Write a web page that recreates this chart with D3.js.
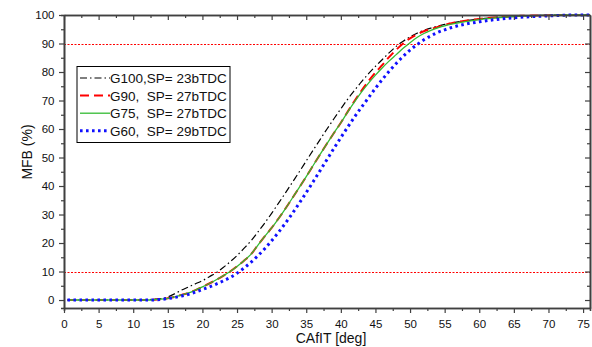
<!DOCTYPE html>
<html>
<head>
<meta charset="utf-8">
<script src="https://cdn.jsdelivr.net/npm/d3@7/dist/d3.min.js"></script>
<style>
  body { margin: 0; background: #fff; }
  text { font-family: Arial, "Liberation Sans", sans-serif; fill: #111; }
</style>
</head>
<body>
<div id="chart"></div>
<script>
// crank angle grid (deg)
var deg = [0.5, 2, 4, 6, 8, 10, 12, 13, 14, 15, 16, 17, 18, 19, 20, 21, 22, 23, 24, 25,
  26, 27, 28, 29, 30, 31, 32, 33, 34, 35, 36, 37, 38, 39, 40, 41, 42, 43, 44, 45,
  46, 47, 48, 49, 50, 51, 52, 53, 54, 55, 56, 58, 60, 62, 64, 66, 68, 70, 72, 74, 76];

// mass fraction burned (%)
var g100 = [0, 0, 0, 0, 0, 0, 0.1, 0.3, 0.5, 1.1, 2.2, 3.5, 4.6, 5.7, 6.8, 8.2, 9.6, 11.4, 13.4, 15.6,
  18.1, 20.7, 23.8, 27.0, 30.4, 34.0, 37.6, 41.3, 45.0, 48.8, 52.6, 56.3, 60.0, 63.6, 67.1, 70.5, 73.6, 76.6, 79.4, 82.0,
  84.4, 86.8, 89.0, 90.8, 92.3, 93.6, 94.6, 95.4, 96.1, 96.7, 97.2, 98.0, 98.6, 99.0, 99.3, 99.6, 99.8, 99.9, 100, 100, 100];
var g90 = [0, 0, 0, 0, 0, 0, 0, 0.1, 0.3, 0.6, 1.1, 1.8, 2.5, 3.5, 4.6, 5.8, 7.1, 8.5, 10.0, 11.8,
  13.8, 16.0, 19.2, 22.3, 25.3, 28.6, 32.1, 35.8, 39.5, 43.3, 47.2, 51.1, 54.9, 58.6, 62.2, 66.1, 69.9, 73.5, 76.8, 79.8,
  82.5, 85.3, 87.8, 90.0, 91.8, 93.2, 94.3, 95.1, 95.8, 96.5, 97.1, 98.0, 98.6, 99.1, 99.4, 99.7, 99.8, 99.9, 100, 100, 100];
var g75 = [0, 0, 0, 0, 0, 0, 0, 0.1, 0.3, 0.6, 1.1, 1.8, 2.5, 3.5, 4.6, 5.8, 7.1, 8.5, 10.0, 11.8,
  13.8, 16.0, 19.2, 22.3, 25.3, 28.6, 32.1, 35.8, 39.5, 43.3, 47.2, 51.1, 54.9, 58.6, 62.2, 66.0, 69.6, 73.0, 76.1, 78.9,
  81.5, 83.9, 86.1, 88.3, 90.3, 92.1, 93.5, 94.6, 95.5, 96.2, 96.8, 97.7, 98.4, 98.9, 99.3, 99.6, 99.8, 99.9, 100, 100, 100];
var g60 = [0, 0, 0, 0, 0, 0, 0, 0.05, 0.2, 0.5, 0.9, 1.4, 2.0, 2.8, 3.7, 4.6, 5.6, 6.7, 7.9, 9.4,
  11.2, 13.2, 15.5, 18.0, 20.8, 23.8, 27.0, 30.4, 34.0, 37.7, 41.5, 45.4, 49.3, 53.2, 57.0, 60.7, 64.3, 67.7, 71.0, 74.3,
  77.4, 80.3, 83.0, 85.5, 87.7, 89.6, 91.3, 92.7, 93.9, 94.8, 95.6, 96.8, 97.6, 98.3, 98.8, 99.2, 99.5, 99.7, 99.9, 100, 100];

var seriesNames = ["G100,SP= 23bTDC", "G90,  SP= 27bTDC", "G75,  SP= 27bTDC", "G60,  SP= 29bTDC"];
var refLines = [10, 90];
var xTicks = d3.range(0, 76, 5);
var yTicks = d3.range(0, 101, 10);

var W = 592, H = 347;
var margin = {top: 15, right: 2, bottom: 39, left: 64};

var svg = d3.select("#chart").append("svg")
  .attr("width", W).attr("height", H);
svg.append("rect").attr("width", W).attr("height", H).attr("fill", "#fff");

var x = d3.scaleLinear().domain([0, 76]).range([margin.left, W - margin.right]);
var y = d3.scaleLinear().domain([-2.8, 100]).range([H - margin.bottom, margin.top]);

var styles = [
  {color: "#000", width: 1.2, dash: "7,3,1.5,3"},
  {color: "#ff0000", width: 2, dash: "9,5"},
  {color: "#33bb33", width: 1.3, dash: null},
  {color: "#1010ff", width: 3, dash: "2.6,3.4"}
];
var allSeries = [g100, g90, g75, g60];

// reference lines (snapped to pixel rows)
svg.selectAll(".ref").data(refLines).enter().append("line")
  .attr("class", "ref")
  .attr("x1", x(0)).attr("x2", x(76))
  .attr("y1", function(d) { return Math.round(y(d)) + 0.5; })
  .attr("y2", function(d) { return Math.round(y(d)) + 0.5; })
  .style("stroke", "#ff0000").style("stroke-width", 1)
  .style("stroke-dasharray", "2,1.5");

// curves
var line = d3.line()
  .x(function(d) { return x(d[0]); })
  .y(function(d) { return y(d[1]); })
  .curve(d3.curveMonotoneX);

allSeries.forEach(function(vals, i) {
  var pts = deg.map(function(d, k) { return [d, vals[k]]; });
  svg.append("path")
    .datum(pts)
    .attr("d", line)
    .attr("fill", "none")
    .attr("stroke", styles[i].color)
    .attr("stroke-width", styles[i].width)
    .attr("stroke-dasharray", styles[i].dash);
});

// axes
var frameCol = "#404040";
function styleAxis(g) {
  g.select(".domain").attr("stroke", frameCol).attr("stroke-width", 1.6);
  g.selectAll(".tick line").attr("stroke", frameCol).attr("stroke-width", 1.2);
  g.selectAll("text").attr("fill", "#111").style("font-size", "11.5px")
    .style("font-family", "Arial, 'Liberation Sans', sans-serif");
}

var xMinor = d3.range(0, 77, 2.5).filter(function(d) { return d % 5 !== 0; });
var yMinor = d3.range(0, 101, 5).filter(function(d) { return d % 10 !== 0; });

// bottom
svg.append("g").attr("transform", "translate(0," + (H - margin.bottom) + ")")
  .call(d3.axisBottom(x).tickValues(xMinor).tickSize(3).tickFormat(""))
  .call(styleAxis);
svg.append("g").attr("transform", "translate(0," + (H - margin.bottom) + ")")
  .call(d3.axisBottom(x).tickValues(xTicks).tickSize(5).tickPadding(7).tickSizeOuter(0))
  .call(styleAxis);
// top
svg.append("g").attr("transform", "translate(0," + margin.top + ")")
  .call(d3.axisTop(x).tickValues(xMinor).tickSize(-3).tickFormat("").tickSizeOuter(0))
  .call(styleAxis);
svg.append("g").attr("transform", "translate(0," + margin.top + ")")
  .call(d3.axisTop(x).tickValues(xTicks).tickSize(-5).tickFormat("").tickSizeOuter(0))
  .call(styleAxis);
// left
svg.append("g").attr("transform", "translate(" + margin.left + ",0)")
  .call(d3.axisLeft(y).tickValues(yMinor).tickSize(3).tickFormat(""))
  .call(styleAxis);
svg.append("g").attr("transform", "translate(" + margin.left + ",0)")
  .call(d3.axisLeft(y).tickValues(yTicks).tickSize(5).tickPadding(4.5).tickSizeOuter(0))
  .call(styleAxis);
// right
svg.append("g").attr("transform", "translate(" + (W - margin.right) + ",0)")
  .call(d3.axisRight(y).tickValues(yMinor).tickSize(-3).tickFormat("").tickSizeOuter(0))
  .call(styleAxis);
svg.append("g").attr("transform", "translate(" + (W - margin.right) + ",0)")
  .call(d3.axisRight(y).tickValues(yTicks).tickSize(-5).tickFormat("").tickSizeOuter(0))
  .call(styleAxis);

// axis titles
svg.append("text")
  .attr("x", (x(0) + x(76)) / 2 + 4).attr("y", 343)
  .attr("text-anchor", "middle")
  .style("font-size", "14px")
  .text("CAfIT [deg]");
svg.append("text")
  .attr("transform", "translate(32,152) rotate(-90)")
  .attr("text-anchor", "middle")
  .style("font-size", "14px")
  .text("MFB (%)");

// legend
var lg = svg.append("g").attr("transform", "translate(77,66.5)");
lg.append("rect").attr("width", 153).attr("height", 76)
  .attr("fill", "#fff").attr("stroke", "#000").attr("stroke-width", 1);
seriesNames.forEach(function(name, i) {
  var cy = 11.5 + i * 17.6;
  lg.append("line")
    .attr("x1", 3).attr("x2", 33).attr("y1", cy).attr("y2", cy)
    .attr("stroke", styles[i].color)
    .attr("stroke-width", styles[i].width)
    .attr("stroke-dasharray", styles[i].dash);
  lg.append("text")
    .attr("x", 33).attr("y", cy + 5)
    .attr("xml:space", "preserve")
    .style("white-space", "pre")
    .style("font-size", "13.5px")
    .text(name);
});
</script>
</body>
</html>
